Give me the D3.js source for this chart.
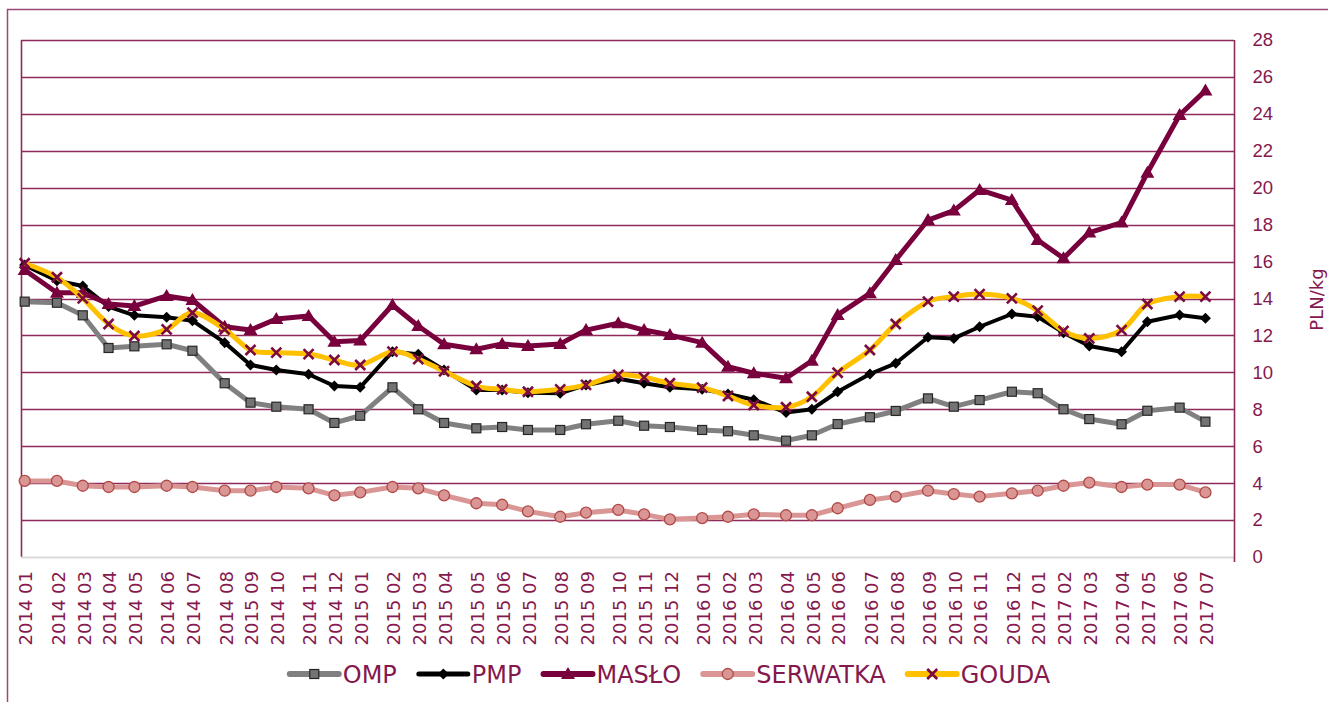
<!DOCTYPE html>
<html>
<head>
<meta charset="utf-8">
<script src="https://cdn.jsdelivr.net/npm/d3@7"></script>
<style>
  html, body { margin: 0; padding: 0; background: #fff; overflow: hidden; }
  svg { display: block; font-family: "DejaVu Sans", Verdana, sans-serif; }
</style>
</head>
<body>
<svg id="chart" width="1328" height="702"></svg>
<script>
// Month labels (as printed, including the "2015 09" slip in 2014)
const labels = [
  "2014 01","2014 02","2014 03","2014 04","2014 05","2014 06","2014 07","2014 08","2015 09","2014 10","2014 11","2014 12",
  "2015 01","2015 02","2015 03","2015 04","2015 05","2015 06","2015 07","2015 08","2015 09","2015 10","2015 11","2015 12",
  "2016 01","2016 02","2016 03","2016 04","2016 05","2016 06","2016 07","2016 08","2016 09","2016 10","2016 11","2016 12",
  "2017 01","2017 02","2017 03","2017 04","2017 05","2017 06","2017 07"
];

// Observation dates (weekly quotations, 4 or 5 weeks apart)
const dates = [
  "2014-01-02","2014-02-06","2014-03-06","2014-04-03","2014-05-01","2014-06-05","2014-07-03","2014-08-07","2014-09-04","2014-10-02","2014-11-06","2014-12-04",
  "2015-01-01","2015-02-05","2015-03-05","2015-04-02","2015-05-07","2015-06-04","2015-07-02","2015-08-06","2015-09-03","2015-10-08","2015-11-05","2015-12-03",
  "2016-01-07","2016-02-04","2016-03-03","2016-04-07","2016-05-05","2016-06-02","2016-07-07","2016-08-04","2016-09-08","2016-10-06","2016-11-03","2016-12-08",
  "2017-01-05","2017-02-02","2017-03-02","2017-04-06","2017-05-04","2017-06-08","2017-07-06"
];

const omp = [
  13.83, 13.77, 13.09, 11.32, 11.41, 11.52, 11.17, 9.41, 8.36, 8.14, 8.00, 7.26,
  7.65, 9.19, 8.00, 7.26, 6.97, 7.04, 6.88, 6.88, 7.19, 7.38, 7.11, 7.04,
  6.88, 6.81, 6.59, 6.30, 6.59, 7.20, 7.57, 7.91, 8.59, 8.14, 8.50, 8.95,
  8.87, 8.00, 7.47, 7.19, 7.92, 8.09, 7.33
];
const pmp = [
  15.81, 14.96, 14.68, 13.56, 13.09, 12.98, 12.80, 11.61, 10.40, 10.13, 9.90, 9.26,
  9.19, 11.12, 10.98, 10.13, 9.04, 9.04, 8.90, 8.87, 9.32, 9.65, 9.41, 9.19,
  9.08, 8.83, 8.52, 7.82, 8.00, 8.95, 9.91, 10.49, 11.90, 11.84, 12.47, 13.16,
  13.01, 12.15, 11.43, 11.12, 12.74, 13.11, 12.93
];
const maslo = [
  15.54, 14.31, 14.31, 13.70, 13.59, 14.14, 13.92, 12.47, 12.29, 12.89, 13.05, 11.66,
  11.72, 13.65, 12.51, 11.52, 11.25, 11.54, 11.43, 11.54, 12.29, 12.66, 12.29, 12.02,
  11.61, 10.31, 9.95, 9.68, 10.63, 13.11, 14.28, 16.09, 18.25, 18.76, 19.88, 19.33,
  17.17, 16.18, 17.57, 18.11, 20.81, 23.94, 25.26
];
const serwatka = [
  4.12, 4.12, 3.86, 3.79, 3.79, 3.86, 3.79, 3.59, 3.59, 3.79, 3.72, 3.34,
  3.50, 3.79, 3.72, 3.34, 2.91, 2.83, 2.47, 2.18, 2.40, 2.55, 2.31, 2.04,
  2.11, 2.18, 2.31, 2.26, 2.26, 2.64, 3.09, 3.27, 3.59, 3.41, 3.27, 3.45,
  3.59, 3.86, 4.03, 3.79, 3.92, 3.92, 3.50
];
const gouda = [
  15.91, 15.15, 14.01, 12.62, 11.97, 12.33, 13.23, 12.33, 11.21, 11.07, 10.99, 10.67,
  10.40, 11.12, 10.72, 10.06, 9.26, 9.08, 8.95, 9.08, 9.32, 9.86, 9.73, 9.41,
  9.17, 8.72, 8.23, 8.11, 8.68, 9.98, 11.21, 12.62, 13.83, 14.10, 14.24, 14.01,
  13.34, 12.24, 11.84, 12.29, 13.70, 14.10, 14.10
];

const yTicks = d3.range(0, 29, 2);
const unitLabel = "PLN/kg";

const textColor = "#85184d";
const gridColor = "#8e2a5c";

const svg = d3.select("#chart");
const width = 1328;
const height = 702;
const margin = { top: 40, right: 94, bottom: 145, left: 21 };

const parse = d3.timeParse("%Y-%m-%d");
const xDates = dates.map(parse);

// Scales
const x = d3.scaleTime()
  .domain([d3.timeDay.offset(xDates[0], -4), d3.timeDay.offset(xDates[xDates.length - 1], 31)])
  .range([margin.left, width - margin.right]);

const y = d3.scaleLinear()
  .domain([0, 28])
  .range([height - margin.bottom, margin.top]);

// Outer chart frame (only top and left edges are visible)
svg.append("rect")
  .attr("x", 7.5).attr("y", 9.5)
  .attr("width", 1400).attr("height", 800)
  .attr("fill", "none")
  .attr("stroke", "#9c4876")
  .attr("stroke-width", 1.5);

// Gridlines
svg.append("g")
  .selectAll("line")
  .data(yTicks.filter(d => d > 0))
  .join("line")
  .attr("x1", margin.left).attr("x2", width - margin.right)
  .attr("y1", d => Math.round(y(d)) + 0.5).attr("y2", d => Math.round(y(d)) + 0.5)
  .attr("stroke", gridColor)
  .attr("stroke-width", 1.6);

// Left border of plot area
svg.append("line")
  .attr("x1", margin.left + 0.5).attr("x2", margin.left + 0.5)
  .attr("y1", y(28)).attr("y2", y(0))
  .attr("stroke", gridColor).attr("stroke-width", 1.6);

// Bottom axis line (light grey)
svg.append("line")
  .attr("x1", margin.left).attr("x2", width - margin.right)
  .attr("y1", y(0) + 0.5).attr("y2", y(0) + 0.5)
  .attr("stroke", "#d9d9d9").attr("stroke-width", 2);

// Right value axis
const yAxis = svg.append("g")
  .attr("transform", `translate(${width - margin.right + 0.5},0)`)
  .call(d3.axisRight(y).tickValues(yTicks).tickSize(0).tickPadding(18).tickFormat(d3.format("d")));
yAxis.select(".domain").remove();
yAxis.append("line")
  .attr("x1", 0).attr("x2", 0)
  .attr("y1", y(28)).attr("y2", y(0) + 5)
  .attr("stroke", gridColor).attr("stroke-width", 1.6);
yAxis.selectAll("text")
  .attr("fill", textColor)
  .style("font-size", "18.5px");

// Axis title
svg.append("text")
  .attr("transform", `translate(1323,${y(14) + 1}) rotate(-90)`)
  .attr("text-anchor", "middle")
  .attr("fill", textColor)
  .style("font-size", "18px")
  .text(unitLabel);

// Category labels (rotated)
svg.append("g")
  .selectAll("text")
  .data(labels)
  .join("text")
  .attr("transform", (d, i) => `translate(${x(xDates[i]) + 1.5},${y(0) + 14}) rotate(-90)`)
  .attr("text-anchor", "end")
  .attr("dy", "0.35em")
  .attr("fill", textColor)
  .style("font-size", "18px")
  .text(d => d);

// Series definitions
const series = [
  { name: "OMP", values: omp, color: "#808080", width: 5, marker: "square", mFill: "#737373", mStroke: "#262626", curve: d3.curveLinear },
  { name: "PMP", values: pmp, color: "#000000", width: 4, marker: "diamond", mFill: "#000000", mStroke: "#000000", curve: d3.curveLinear },
  { name: "MASŁO", values: maslo, color: "#78003c", width: 5, marker: "triangle", mFill: "#78003c", mStroke: "#78003c", curve: d3.curveLinear },
  { name: "SERWATKA", values: serwatka, color: "#d99694", width: 5, marker: "circle", mFill: "#d99694", mStroke: "#b04a48", curve: d3.curveLinear },
  { name: "GOUDA", values: gouda, color: "#ffc000", width: 5, marker: "cross", mFill: "none", mStroke: "#7a0a40", curve: d3.curveCardinal.tension(0) }
];

function drawMarker(g, type, s) {
  if (type === "square") {
    g.append("rect").attr("x", -4.5).attr("y", -4.5).attr("width", 9).attr("height", 9)
      .attr("fill", s.mFill).attr("stroke", s.mStroke).attr("stroke-width", 1.2);
  } else if (type === "diamond") {
    g.append("path").attr("d", "M0,-5.5L5.5,0L0,5.5L-5.5,0Z").attr("fill", s.mFill);
  } else if (type === "triangle") {
    g.append("path").attr("d", "M0,-7L7,5L-7,5Z").attr("fill", s.mFill);
  } else if (type === "circle") {
    g.append("circle").attr("r", 5.5)
      .attr("fill", s.mFill).attr("stroke", s.mStroke).attr("stroke-width", 1.3);
  } else if (type === "cross") {
    g.append("path").attr("d", "M-5,-5L5,5M-5,5L5,-5")
      .attr("stroke", s.mStroke).attr("stroke-width", 2.6).attr("fill", "none");
  }
}

// Lines and markers, drawn in series order
series.forEach(s => {
  const line = d3.line()
    .x((d, i) => x(xDates[i]))
    .y(d => y(d))
    .curve(s.curve);

  svg.append("path")
    .datum(s.values)
    .attr("d", line)
    .attr("fill", "none")
    .attr("stroke", s.color)
    .attr("stroke-width", s.width)
    .attr("stroke-linejoin", "round");

  svg.append("g")
    .selectAll("g")
    .data(s.values)
    .join("g")
    .attr("transform", (d, i) => `translate(${x(xDates[i])},${y(d)})`)
    .each(function () { drawMarker(d3.select(this), s.marker, s); });
});

// Legend
const legend = svg.append("g");
let lx = 0;
series.forEach(s => {
  const item = legend.append("g").attr("transform", `translate(${lx},0)`);
  item.append("line")
    .attr("x1", 0).attr("x2", 49)
    .attr("stroke", s.color).attr("stroke-width", s.width + 1)
    .attr("stroke-linecap", "round");
  const m = item.append("g").attr("transform", "translate(24.5,0)");
  drawMarker(m, s.marker, s);
  const t = item.append("text")
    .attr("x", 53)
    .attr("dy", "0.36em")
    .attr("fill", textColor)
    .style("font-size", "24px")
    .text(s.name);
  lx += 53 + t.node().getComputedTextLength() + 22;
});
const legendWidth = lx - 22;
legend.attr("transform", `translate(${670 - legendWidth / 2},674)`);
</script>
</body>
</html>
